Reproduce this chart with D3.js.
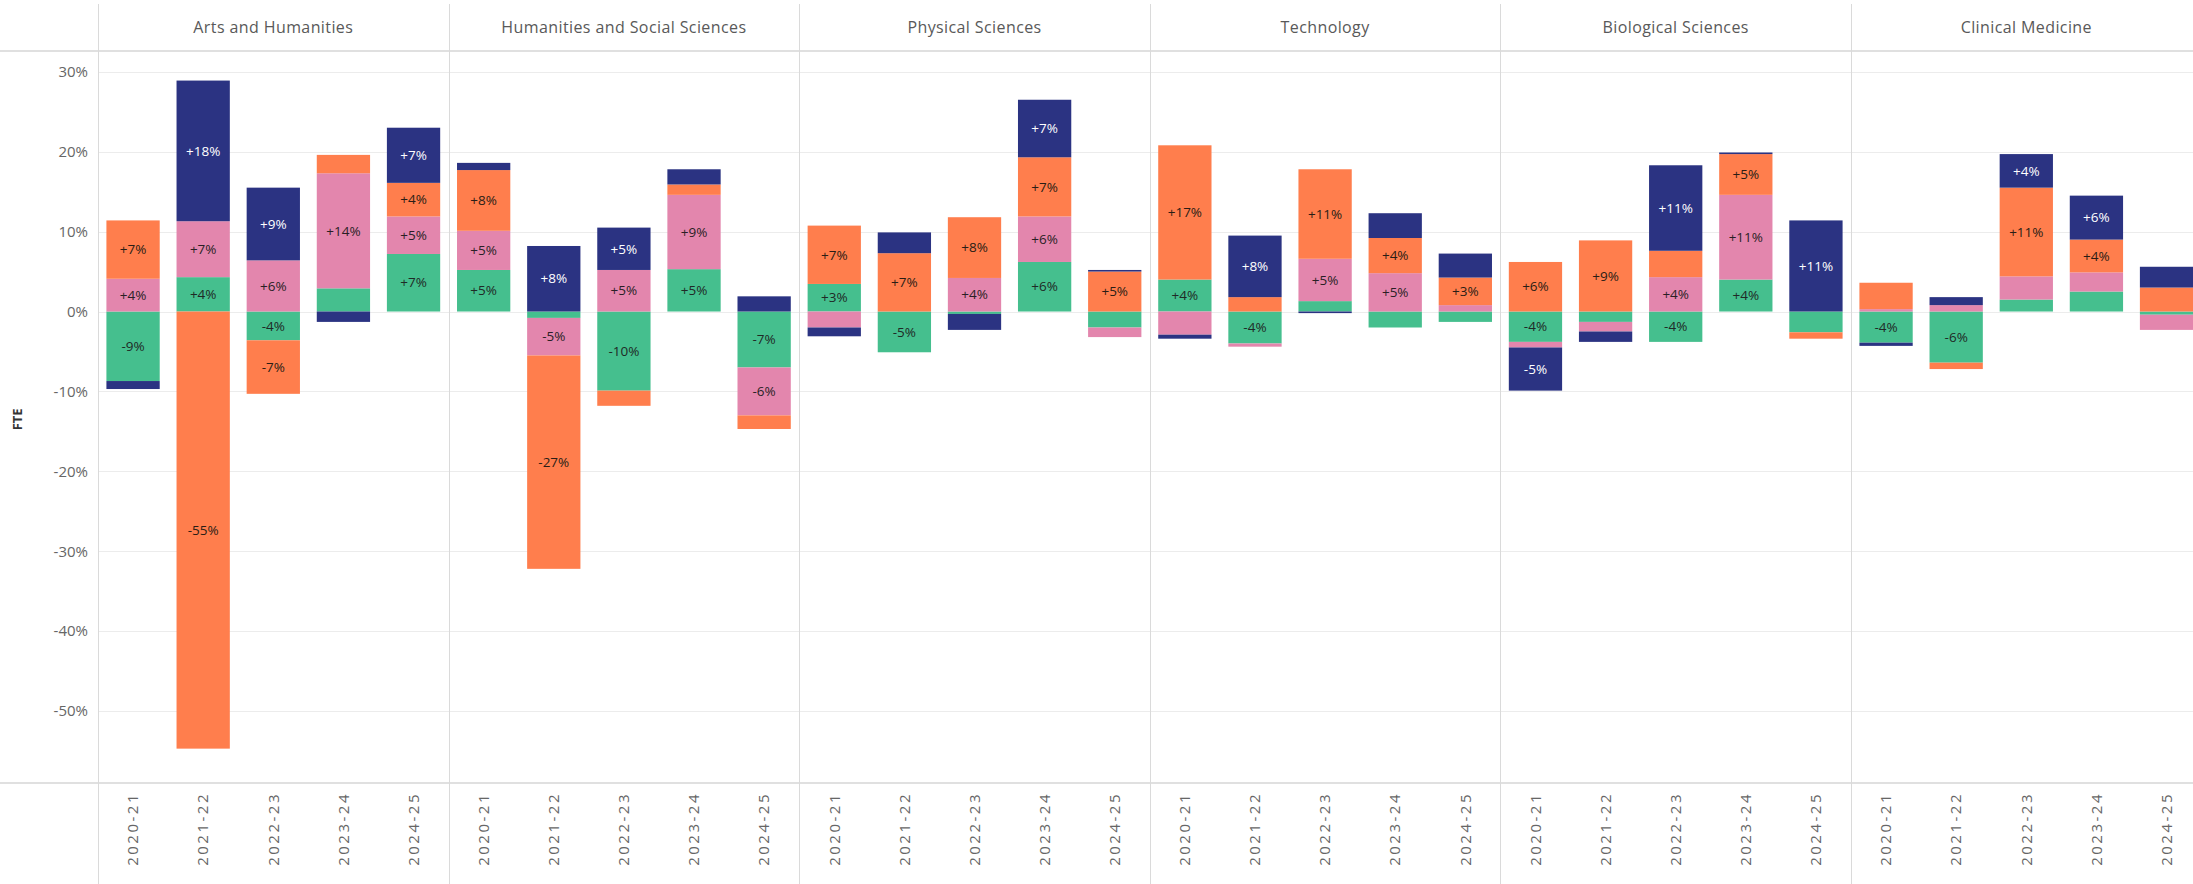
<!DOCTYPE html>
<html>
<head>
<meta charset="utf-8">
<script src="https://cdn.jsdelivr.net/npm/d3@7"></script>
<style>
  body { margin: 0; background: #fff; }
  svg { display: block; font-family: "Open Sans", sans-serif; }
</style>
</head>
<body>
<script>
// categories
const faculties = [
  "Arts and Humanities",
  "Humanities and Social Sciences",
  "Physical Sciences",
  "Technology",
  "Biological Sciences",
  "Clinical Medicine",
];
const years = ["2020-21", "2021-22", "2022-23", "2023-24", "2024-25"];

// series values, % change, one row per faculty (years across)
const green = [
  [-8.7, 4.3, -3.6, 2.9, 7.2],
  [5.2, -0.8, -9.9, 5.3, -7.0],
  [3.45, -5.1, -0.3, 6.2, -2.0],
  [4.0, -4.0, 1.3, -2.0, -1.3],
  [-3.8, -1.3, -3.8, 4.0, -2.6],
  [-3.9, -6.4, 1.5, 2.5, -0.4],
];
const pink = [
  [4.1, 7.0, 6.4, 14.4, 4.7],
  [4.9, -4.7, 5.2, 9.3, -6.0],
  [-2.0, 0, 4.2, 5.7, -1.2],
  [-2.9, -0.4, 5.3, 4.8, 0.8],
  [-0.7, -1.2, 4.3, 10.6, 0],
  [0.3, 0.8, 2.9, 2.4, -1.9],
];
const orange = [
  [7.3, -54.7, -6.7, 2.3, 4.2],
  [7.6, -26.7, -1.9, 1.3, -1.7],
  [7.3, 7.3, 7.6, 7.4, 5.0],
  [16.8, 1.8, 11.2, 4.4, 3.45],
  [6.2, 8.9, 3.3, 5.1, -0.8],
  [3.3, -0.8, 11.1, 4.1, 3.0],
];
const navy = [
  [-1.0, 17.6, 9.1, -1.3, 6.9],
  [0.9, 8.2, 5.3, 1.9, 1.9],
  [-1.1, 2.6, -2.0, 7.2, 0.2],
  [-0.5, 7.7, -0.2, 3.1, 3.0],
  [-5.4, -1.3, 10.7, 0.2, 11.4],
  [-0.4, 1.0, 4.2, 5.5, 2.6],
];

const yTicks = [30, 20, 10, 0, -10, -20, -30, -40, -50];

const keys = ["green", "pink", "orange", "navy"];
const colors = { green: "#45bf8e", pink: "#e386ad", orange: "#ff7e4d", navy: "#2b3382" };
const labelColors = { green: "#1f2a26", pink: "#2a1f25", orange: "#2a1d15", navy: "#ffffff" };

// flat table for the stack
const series = { green, pink, orange, navy };
const rows = [];
faculties.forEach((f, i) => {
  years.forEach((yr, j) => {
    const r = { faculty: f, year: yr };
    keys.forEach((k) => (r[k] = series[k][i][j]));
    rows.push(r);
  });
});

const W = 2193, H = 884;
const left = 98, panelW = 350.6;
const headerBottom = 51, plotBottom = 783;

const svg = d3.select("body").append("svg").attr("width", W).attr("height", H);

const xFac = d3.scaleBand().domain(faculties).range([left, left + panelW * faculties.length]);
const xYear = d3.scaleBand().domain(years).range([0, panelW]).paddingInner(0.24).paddingOuter(0.12);
const y = d3.scaleLinear().domain([-59, 32.6]).range([plotBottom, headerBottom]);

// grid
svg.append("g")
  .selectAll("line")
  .data(yTicks)
  .join("line")
  .attr("x1", left).attr("x2", W)
  .attr("y1", (d) => Math.round(y(d)) + 0.5).attr("y2", (d) => Math.round(y(d)) + 0.5)
  .attr("stroke", "#ececec");

// header and bottom rules
svg.append("line").attr("x1", 0).attr("x2", W).attr("y1", headerBottom).attr("y2", headerBottom)
  .attr("stroke", "#d6d6d6").attr("stroke-width", 1.5);
svg.append("line").attr("x1", 0).attr("x2", W).attr("y1", plotBottom).attr("y2", plotBottom)
  .attr("stroke", "#d6d6d6").attr("stroke-width", 1.5);

// panel dividers
svg.append("g")
  .selectAll("line")
  .data(faculties)
  .join("line")
  .attr("x1", (d) => Math.round(xFac(d)) + 0.5).attr("x2", (d) => Math.round(xFac(d)) + 0.5)
  .attr("y1", 4).attr("y2", H)
  .attr("stroke", "#dadada");

// panel titles
svg.append("g")
  .selectAll("text")
  .data(faculties)
  .join("text")
  .attr("x", (d) => xFac(d) + panelW / 2)
  .attr("y", 33)
  .attr("text-anchor", "middle")
  .attr("fill", "#595959")
  .style("font-size", "16px")
  .style("letter-spacing", "0.4px")
  .text((d) => d);

// y axis labels
svg.append("g")
  .selectAll("text")
  .data(yTicks)
  .join("text")
  .attr("x", 88)
  .attr("y", (d) => y(d))
  .attr("dy", "0.35em")
  .attr("text-anchor", "end")
  .attr("fill", "#666")
  .style("font-size", "15px")
  .text((d) => d + "%");

svg.append("text")
  .attr("transform", `translate(17,${y(-13.5)}) rotate(-90)`)
  .attr("text-anchor", "middle")
  .attr("dy", "0.35em")
  .attr("fill", "#333")
  .style("font-size", "13px")
  .style("font-weight", "bold")
  .text("FTE");

// stacked bars
const stacked = d3.stack().keys(keys).offset(d3.stackOffsetDiverging)(rows);

const layers = svg.append("g")
  .selectAll("g")
  .data(stacked)
  .join("g")
  .attr("fill", (d) => colors[d.key]);

layers.selectAll("rect")
  .data((d) => d)
  .join("rect")
  .attr("x", (d) => xFac(d.data.faculty) + xYear(d.data.year))
  .attr("width", xYear.bandwidth())
  .attr("y", (d) => y(Math.max(d[0], d[1])))
  .attr("height", (d) => Math.abs(y(d[0]) - y(d[1])));

// segment labels
const fmt = (v) => (v > 0 ? "+" : "-") + Math.round(Math.abs(v)) + "%";
stacked.forEach((layer) => {
  svg.append("g")
    .selectAll("text")
    .data(layer.filter((d) => Math.abs(d.data[layer.key]) >= 3.4))
    .join("text")
    .attr("x", (d) => xFac(d.data.faculty) + xYear(d.data.year) + xYear.bandwidth() / 2)
    .attr("y", (d) => y((d[0] + d[1]) / 2))
    .attr("dy", "0.35em")
    .attr("text-anchor", "middle")
    .attr("fill", labelColors[layer.key])
    .style("font-size", "13.5px")
    .text((d) => fmt(d.data[layer.key]));
});

// x axis labels
faculties.forEach((f) => {
  svg.append("g")
    .selectAll("text")
    .data(years)
    .join("text")
    .attr("transform", (d) => `translate(${xFac(f) + xYear(d) + xYear.bandwidth() / 2},792) rotate(-90)`)
    .attr("dy", "0.35em")
    .attr("text-anchor", "end")
    .attr("fill", "#666")
    .style("font-size", "15px")
    .style("letter-spacing", "2.5px")
    .text((d) => d);
});
</script>
</body>
</html>
